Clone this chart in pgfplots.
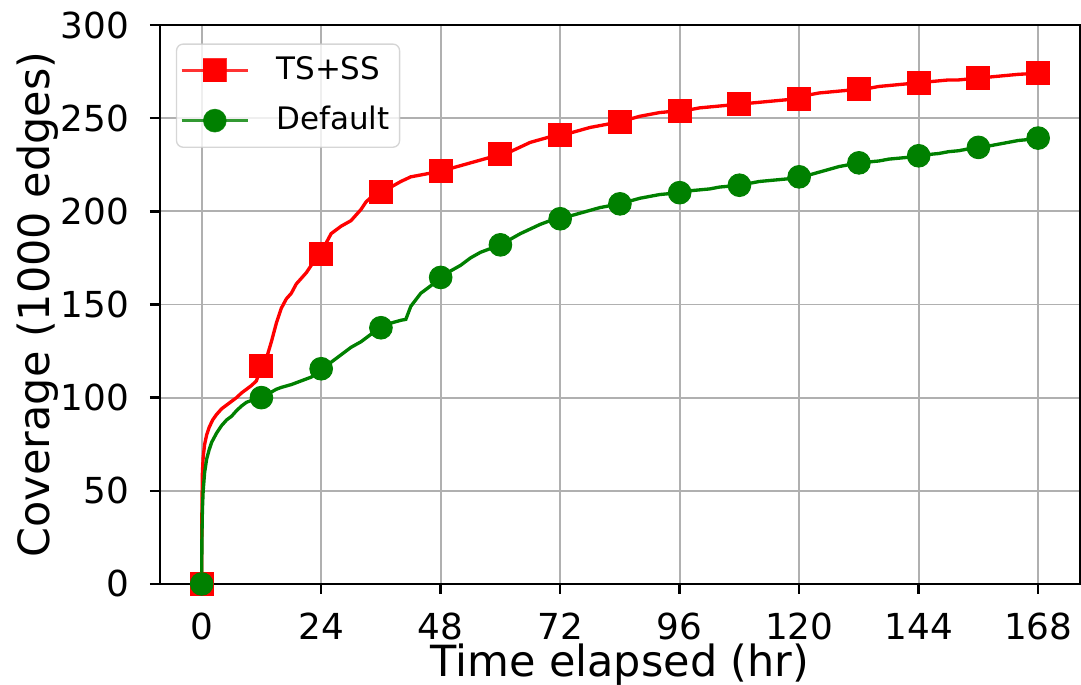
\documentclass[border=0pt]{standalone}
\usepackage{fontspec}
\setmainfont{DejaVu Sans}
\usepackage{pgfplots}
\pgfplotsset{compat=1.18}

\definecolor{mplgreen}{RGB}{0,128,0}
\definecolor{gridgray}{RGB}{176,176,176}

\begin{document}
\begin{tikzpicture}
\begin{axis}[name=ax,
  width=276.3pt, height=167.85pt, scale only axis,
  xmin=-8.4, xmax=176.4, ymin=0, ymax=300,
  xtick={0,24,...,168}, ytick={0,50,...,300},
  xtick pos=bottom, ytick pos=left,
  tick align=outside, major tick length=3pt,
  tick style={black, line width=0.75pt},
  axis line style={line width=0.75pt},
  grid=major, grid style={gridgray, line width=0.57pt},
  /pgf/number format/assume math mode=true,
  xticklabel style={font=\fontsize{10.75}{12}\selectfont, anchor=base, yshift=-13.65pt},
  yticklabel style={font=\fontsize{10.75}{12}\selectfont, anchor=east, inner sep=0pt, xshift=-6pt},
  xlabel={Time elapsed (hr)},
  ylabel={Coverage (1000 edges)},
  every axis x label/.style={at={(axis description cs:0.5,-0.1653)}, anchor=base, font=\fontsize{12.9}{15}\selectfont},
  every axis y label/.style={at={(axis description cs:-0.1194,0.5)}, rotate=90, anchor=base, font=\fontsize{12.9}{15}\selectfont},
  legend image code/.code={\draw[mark repeat=2,mark phase=2,fill opacity=1,#1] plot coordinates {(0pt,0pt)(10pt,0pt)(20pt,0pt)};},
  legend cell align=left,
  legend style={at={(axis description cs:0.0174,0.967)}, anchor=north west,
    font=\fontsize{9.3}{11}\selectfont,
    draw=black!20, fill=white, fill opacity=0.8, draw opacity=0.8, text opacity=1,
    rounded corners=2pt, inner xsep=1pt, inner ysep=1.7pt,
    row sep=2.6pt, column sep=6pt,
    nodes={inner sep=2pt, text depth=0.15em}},
]
\addlegendimage{red, line width=1pt, mark=square*, mark size=3.45pt, mark options={solid, fill=red, draw=red, line width=0.3pt}}
\addlegendentry{TS+SS}
\addlegendimage{mplgreen, line width=1pt, mark=*, mark size=3.4pt, mark options={solid, fill=mplgreen, draw=mplgreen, line width=0.3pt}}
\addlegendentry{Default}

% TS+SS
\addplot[red, line width=1pt, forget plot] coordinates {
(0,0)(0.05,40)(0.15,60)(0.3,68)(0.6,75)(1,80)(1.5,84)(2.2,88)(3,91)(4,94)(5,96)(6,98)(7,100)(8,102.5)(9,104.5)(10,106.5)(11,109)(12,117)
(13,121)(14,130)(15,140)(16,148)(17,153)(18,156)(19,161)(20,164)(21,167)(22,171)(23,174)(24,177)
(25,183)(26,188)(27,190)(28,192)(29,193.5)(30,195)(31,198)(32,201)(33,205)(34,207.5)(35,209.5)(36,210.5)
(38,213)(40,216)(42,218.5)(44,219.5)(46,220.5)(48,221.5)(50,223)(52,224.5)(54,226)(56,227.5)(58,229)(60,230.5)
(62,232)(64,234.5)(66,237)(68,238.5)(70,240)(72,241)(74,242)(76,243.5)(78,245)(80,246)(82,247)(84,248)
(86,249.5)(88,251)(90,252)(92,253)(94,253.5)(96,254)(98,254.5)(100,255.5)(102,256)(104,256.5)(106,257)(108,257.5)
(110,258)(112,258.5)(114,259)(116,259.5)(118,260)(120,260.5)(122,262.5)(124,263.5)(126,264)(128,264.5)(130,265)(132,265.5)
(134,266)(136,267)(138,267.5)(140,268)(142,268.5)(144,269)(146,269.5)(148,270)(150,270.5)(152,270.5)(154,271)(156,271.5)
(158,272)(160,272.5)(162,273)(164,273.5)(166,273.8)(168,274)};
\addplot[red, only marks, mark=square*, mark size=3.45pt, mark options={fill=red, draw=red, line width=0.3pt}, forget plot] coordinates {
(0,0)(12,117)(24,177)(36,210.5)(48,221.5)(60,230.5)(72,241)(84,248)(96,254)(108,257.5)(120,260.5)(132,265.5)(144,269)(156,271.5)(168,274)};

% Default
\addplot[mplgreen, line width=1pt, forget plot] coordinates {
(0,0)(0.05,25)(0.15,40)(0.3,50)(0.6,60)(1,67)(1.5,72)(2,76)(3,81)(4,85)(5,88)(6,90)(7,93)(8,95.5)(9,97.5)(10,98.5)(11,99.5)(12,100)
(13,101.5)(14,103)(15,104.5)(16,105.5)(18,107)(20,109)(22,111)(23,113)(24,115.5)
(26,119)(28,123)(30,127)(32,130)(34,134)(36,137.5)(38,140)(40,141.5)(41,142)(42,149)(44,156)(46,160)(48,164.5)
(50,168)(52,171)(54,175)(56,178)(58,180)(60,182)(62,185)(64,188)(66,190.5)(68,193)(70,195)(72,196)
(74,197.5)(76,199)(78,200.5)(80,202)(82,203)(84,204)(86,205.5)(88,207)(90,208)(92,209)(94,209.5)(96,210)
(98,211)(100,211.5)(102,212)(104,213)(106,213.5)(108,214)(110,215)(112,216)(114,216.5)(116,217)(118,217.5)(120,218.5)
(122,219.5)(124,221)(126,222.5)(128,224)(130,225)(132,226)(134,226.5)(136,227)(138,228)(140,228.5)(142,229)(144,229.8)
(146,230.5)(148,231)(150,232)(152,232.5)(154,233.5)(156,234.3)(158,235)(160,236)(162,237)(164,238)(166,238.5)(168,239.3)};
\addplot[mplgreen, only marks, mark=*, mark size=3.4pt, mark options={fill=mplgreen, draw=mplgreen, line width=0.3pt}, forget plot] coordinates {
(0,0)(12,100)(24,115.5)(36,137.5)(48,164.5)(60,182)(72,196)(84,204)(96,210)(108,214)(120,218.5)(132,226)(144,229.8)(156,234.3)(168,239.3)};
\end{axis}
\pgfresetboundingbox
\path ([shift={(-48pt,-30.15pt)}]ax.south west) rectangle ([shift={(0.3pt,7.5pt)}]ax.north east);
\end{tikzpicture}
\end{document}
